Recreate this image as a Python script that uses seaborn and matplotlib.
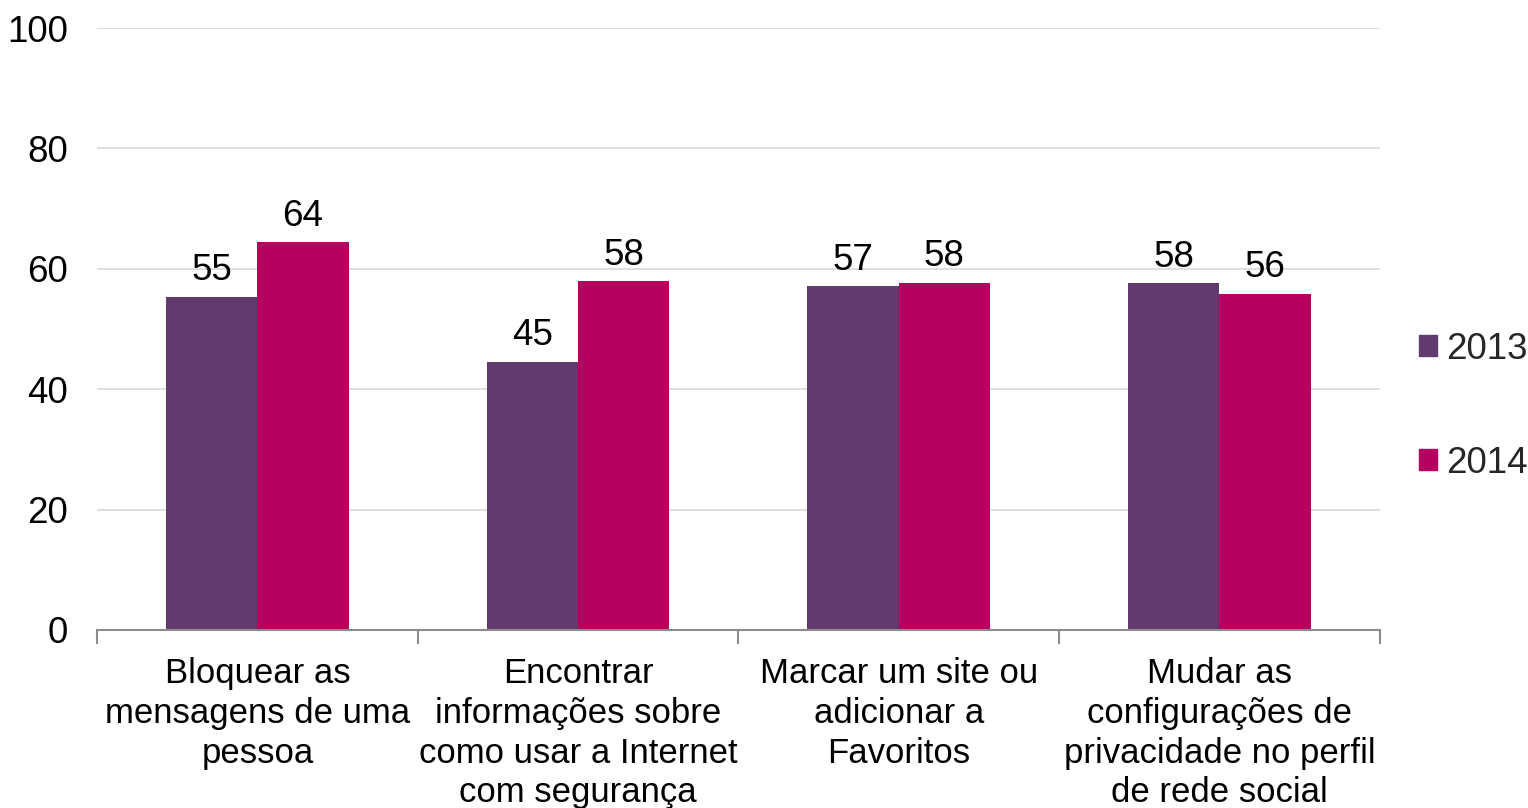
import matplotlib
matplotlib.use("Agg")
import matplotlib.pyplot as plt
import seaborn as sns
import pandas as pd
import numpy as np

categories = [
    "Bloquear as\nmensagens de uma\npessoa",
    "Encontrar\ninformações sobre\ncomo usar a Internet\ncom segurança",
    "Marcar um site ou\nadicionar a\nFavoritos",
    "Mudar as\nconfigurações de\nprivacidade no perfil\nde rede social",
]
years = ["2013", "2014"]
values_2013 = [55.4, 44.6, 57.1, 57.6]
values_2014 = [64.4, 57.9, 57.7, 55.9]
labels_2013 = ["55", "45", "57", "58"]
labels_2014 = ["64", "58", "58", "56"]
colors = ["#613A6E", "#B5005F"]

df = pd.DataFrame({
    "cat": categories * 2,
    "year": [years[0]] * 4 + [years[1]] * 4,
    "val": values_2013 + values_2014,
})

sns.set_theme(style="white")
plt.rcParams["font.family"] = ["Liberation Sans", "DejaVu Sans"]
FS = 26.5
FS_CAT = 25

fig = plt.figure(figsize=(15.28, 8.08), dpi=100)
ax = fig.add_axes([0.0635, 0.2203, 0.9030 - 0.0635, 0.9653 - 0.2203])

sns.barplot(data=df, x="cat", y="val", hue="year", palette=colors,
            width=0.57, linewidth=0, saturation=1, ax=ax, legend=True)

for cont, labs in zip(ax.containers, [labels_2013, labels_2014]):
    ax.bar_label(cont, labels=labs, padding=6, fontsize=FS, color="black")

ax.set_ylim(0, 100)
ax.set_xlim(-0.5, 3.5)
ax.set_yticks([0, 20, 40, 60, 80, 100])
ax.yaxis.grid(True, color="#D9D9D9", linewidth=1.2)
ax.set_axisbelow(True)
ax.set_xlabel("")
ax.set_ylabel("")
for s in ["top", "right", "left"]:
    ax.spines[s].set_visible(False)
ax.spines["bottom"].set_color("#8C8C8C")
ax.spines["bottom"].set_linewidth(1.5)

ax.tick_params(axis="y", length=0, pad=21, labelsize=FS, labelcolor="black")
ax.tick_params(axis="x", which="major", bottom=True, length=0, pad=19.5,
               labelsize=FS_CAT, labelcolor="black")
ax.set_xticks(np.arange(-0.5, 4, 1), minor=True)
ax.tick_params(axis="x", which="minor", bottom=True, length=10, width=1.5,
               color="#8C8C8C", direction="out")
for t in ax.get_xticklabels():
    t.set_multialignment("center")
    t.set_linespacing(1.26)

leg = ax.get_legend()
leg.remove()
handles = [plt.Rectangle((0, 0), 1, 1, color=c) for c in colors]
fig.legend(handles, years, loc="center left", bbox_to_anchor=(0.9285, 0.497),
           frameon=False, fontsize=FS, handlelength=0.5, handleheight=0.5,
           handletextpad=0.25, labelspacing=2.14, borderpad=0, borderaxespad=0)

fig.savefig("out.png", dpi=100)
